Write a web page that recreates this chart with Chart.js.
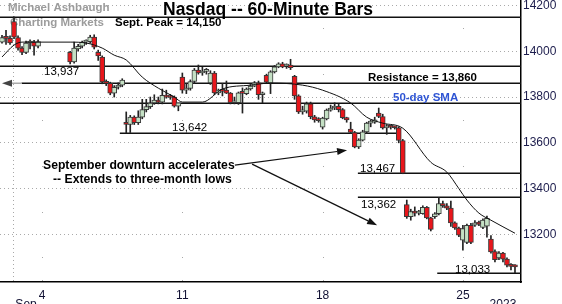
<!DOCTYPE html>
<html>
<head>
<meta charset="utf-8">
<script src="https://cdn.jsdelivr.net/npm/chart.js@4.4.0/dist/chart.umd.min.js"></script>
<style>
  html, body { margin: 0; padding: 0; background: #fff; }
  #wrap { width: 562px; height: 304px; position: relative; }
</style>
</head>
<body>
<div id="wrap"><canvas id="chart" width="562" height="304"></canvas></div>
<script>
// --- DATA ---
const days = ['Aug 31', 'Sep 1', 'Sep 4', 'Sep 5', 'Sep 6', 'Sep 7', 'Sep 8',
              'Sep 11', 'Sep 12', 'Sep 13', 'Sep 14', 'Sep 15',
              'Sep 18', 'Sep 19', 'Sep 20', 'Sep 21', 'Sep 22', 'Sep 25', 'Sep 26'];
const hours = ['9:30', '10:30', '11:30', '12:30', '13:30', '14:30', '15:30'];
const mondays = ['Sep 4', 'Sep 11', 'Sep 18', 'Sep 25'];

// one row per day (Aug 31 only last 3 bars, Sep 4 holiday = empty slots)
const opens = [
  14040, 14060, 14056,
  14130, 14060, 14014, 13995, 14036, 14040, 14022,
  null, null, null, null, null, null, null,
  13995, 13953, 14010, 14022, 14040, 14042, 14062,
  13995, 13975, 13866, 13860, 13817, 13843, 13852,
  13690, 13680, 13712, 13688, 13712, 13745, 13758,
  13774, 13787, 13778, 13808, 13800, 13800, 13760,
  13887, 13830, 13838, 13868, 13918, 13905, 13912,
  13862, 13905, 13818, 13830, 13830, 13817, 13775,
  13775, 13818, 13815, 13835, 13848, 13862, 13810,
  13895, 13862, 13910, 13932, 13945, 13935, 13940,
  13890, 13805, 13735, 13738, 13770, 13714, 13700,
  13668, 13705, 13743, 13752, 13760, 13745, 13710,
  13660, 13645, 13582, 13612, 13648, 13686, 13690,
  13730, 13715, 13665, 13670, 13668, 13666, 13610,
  13330, 13277, 13298, 13293, 13290, 13318, 13272,
  13277, 13290, 13335, 13325, 13315, 13250, 13228,
  13175, 13165, 13240, 13240, 13250, 13230, 13236,
  13180, 13125, 13097, 13118, 13092, 13065, 13060,
  null
];
const highs = [
  14070, 14092, 14068,
  14150, 14068, 14020, 14045, 14050, 14048, 14050,
  null, null, null, null, null, null, null,
  14000, 14040, 14030, 14045, 14050, 14070, 14072,
  14005, 13980, 13875, 13865, 13850, 13862, 13880,
  13735, 13720, 13718, 13740, 13790, 13790, 13800,
  13810, 13800, 13835, 13830, 13812, 13805, 13770,
  13905, 13860, 13875, 13925, 13940, 13930, 13925,
  13915, 13912, 13835, 13860, 13870, 13820, 13800,
  13822, 13840, 13840, 13855, 13868, 13870, 13822,
  13900, 13915, 13938, 13950, 13952, 13945, 13965,
  13895, 13810, 13760, 13778, 13778, 13720, 13710,
  13712, 13748, 13765, 13775, 13768, 13750, 13712,
  13690, 13650, 13618, 13655, 13690, 13700, 13712,
  13752, 13725, 13680, 13675, 13672, 13670, 13615,
  13350, 13310, 13320, 13305, 13325, 13322, 13275,
  13295, 13362, 13345, 13335, 13345, 13255, 13232,
  13240, 13245, 13248, 13260, 13258, 13268, 13280,
  13195, 13133, 13125, 13122, 13098, 13072, 13068,
  null
];
const lows = [
  14035, 14030, 14030,
  14055, 14005, 13985, 13990, 14010, 13983, 14015,
  null, null, null, null, null, null, null,
  13945, 13948, 14000, 14015, 14030, 14035, 14010,
  13960, 13858, 13850, 13810, 13800, 13835, 13845,
  13643, 13645, 13680, 13680, 13705, 13735, 13750,
  13768, 13770, 13770, 13795, 13790, 13756, 13740,
  13817, 13815, 13830, 13860, 13900, 13895, 13900,
  13855, 13810, 13810, 13805, 13815, 13770, 13770,
  13768, 13730, 13810, 13830, 13845, 13790, 13775,
  13860, 13815, 13905, 13928, 13928, 13925, 13920,
  13790, 13728, 13725, 13730, 13705, 13690, 13690,
  13660, 13700, 13738, 13745, 13735, 13705, 13690,
  13640, 13578, 13575, 13608, 13640, 13670, 13685,
  13710, 13660, 13637, 13660, 13660, 13600, 13465,
  13270, 13262, 13280, 13285, 13288, 13268, 13215,
  13270, 13285, 13318, 13308, 13235, 13222, 13190,
  13131, 13160, 13160, 13235, 13238, 13225, 13188,
  13118, 13080, 13090, 13080, 13058, 13045, 13033,
  null
];
const closes = [
  14060, 14056, 14036,
  14062, 14014, 13995, 14036, 14040, 14022, 14042,
  null, null, null, null, null, null, null,
  13953, 14014, 14022, 14040, 14045, 14062, 14018,
  13980, 13866, 13860, 13817, 13843, 13852, 13874,
  13680, 13712, 13688, 13712, 13745, 13758, 13774,
  13787, 13778, 13808, 13800, 13798, 13760, 13775,
  13830, 13838, 13868, 13918, 13905, 13912, 13920,
  13905, 13818, 13830, 13825, 13817, 13775, 13778,
  13818, 13816, 13835, 13848, 13862, 13810, 13812,
  13865, 13910, 13932, 13945, 13932, 13936, 13928,
  13805, 13735, 13740, 13770, 13714, 13700, 13697,
  13708, 13743, 13752, 13760, 13745, 13710, 13700,
  13645, 13582, 13612, 13648, 13686, 13690, 13700,
  13715, 13665, 13670, 13668, 13666, 13610, 13467,
  13277, 13300, 13293, 13298, 13318, 13272, 13222,
  13290, 13335, 13325, 13315, 13250, 13228, 13197,
  13225, 13240, 13165, 13250, 13245, 13262, 13270,
  13123, 13090, 13118, 13092, 13065, 13060, 13058,
  null
];

// moving average, read at a few bars and joined by the library
const maBars = [0, 3, 5, 17, 21, 25, 28, 31, 35, 39, 43, 45, 50, 55, 62, 67, 75, 80, 87, 91, 95, 100, 107, 111, 114, 116, 119, 122, 128];
const maValues = [13975, 14027, 14040, 14040, 14036, 14014, 13983, 13962, 13887, 13839, 13800, 13778, 13778, 13835, 13852, 13861, 13852, 13830, 13774, 13712, 13686, 13664, 13515, 13472, 13400, 13350, 13293, 13262, 13205];

const yTicks = [13200, 13400, 13600, 13800, 14000, 14200];
const levels = [14150, 13937, 13860, 13775, 13642, 13467, 13362, 13033];

// --- BUILD ---
const labels = [];
days.forEach((d, i) => {
    (i === 0 ? hours.slice(4) : hours).forEach(h => labels.push(d + ' ' + h));
});
labels.push('Sep 27 9:30');

const maData = labels.map(() => null);
maBars.forEach((b, i) => { maData[b] = maValues[i]; });

const UP = '#c4e0c4', DOWN = '#e8161b';
const FONT = '"Liberation Sans", Arial, sans-serif';

// --- OVERLAY (levels, notes, arrows) ---
const levelSpans = [[-0.5, 129.5], [-0.5, 129.5], [4.9, 129.5], [-0.5, 129.5],
                    [29.4, 99.4], [88.8, 129.5], [88.8, 129.5], [108.6, 129.5]];

function arrow(ctx, x1, y1, x2, y2) {
    const a = Math.atan2(y2 - y1, x2 - x1), L = 10, W = 3.5;
    ctx.beginPath(); ctx.moveTo(x1, y1);
    ctx.lineTo(x2 - L * Math.cos(a), y2 - L * Math.sin(a)); ctx.stroke();
    ctx.beginPath();
    ctx.moveTo(x2, y2);
    ctx.lineTo(x2 - L * Math.cos(a) + W * Math.sin(a), y2 - L * Math.sin(a) - W * Math.cos(a));
    ctx.lineTo(x2 - L * Math.cos(a) - W * Math.sin(a), y2 - L * Math.sin(a) + W * Math.cos(a));
    ctx.closePath(); ctx.fill();
}

const overlay = {
    id: 'overlay',
    beforeDatasetsDraw(chart) {
        const {ctx, chartArea: ca, scales: {x, y}} = chart;
        ctx.save();

        // sparse grid dots at week starts
        ctx.fillStyle = '#a8a8a8';
        mondays.forEach(d => {
            const xp = Math.round(x.getPixelForValue(labels.indexOf(d + ' 9:30')));
            for (let v = 13000; v <= 14200; v += 100) {
                if (yTicks.includes(v)) continue;
                ctx.fillRect(xp, Math.round(y.getPixelForValue(v)), 1, 1);
            }
        });

        // month separator
        const mx = Math.round(x.getPixelForValue(labels.indexOf('Sep 1 9:30'))) - 0.5;
        ctx.strokeStyle = '#a8a8a8'; ctx.lineWidth = 1; ctx.setLineDash([1, 3]);
        ctx.beginPath(); ctx.moveTo(mx, ca.top); ctx.lineTo(mx, ca.bottom); ctx.stroke();
        ctx.setLineDash([]);

        // watermark
        ctx.font = 'bold 11.5px ' + FONT;
        ctx.fillStyle = '#9c9c9c'; ctx.textBaseline = 'middle';
        ctx.fillText('Michael Ashbaugh', 8, 8);
        ctx.fillText('Charting Markets', 10, 23);

        // level lines
        ctx.strokeStyle = '#111'; ctx.lineWidth = 1.5;
        levels.forEach((v, i) => {
            const yp = Math.round(y.getPixelForValue(v)) + 0.25;
            ctx.beginPath();
            ctx.moveTo(x.getPixelForValue(levelSpans[i][0]), yp);
            ctx.lineTo(x.getPixelForValue(levelSpans[i][1]), yp);
            ctx.stroke();
        });

        // small resistance marker on the left edge
        const ry = Math.round(y.getPixelForValue(13860)) + 0.25;
        ctx.strokeStyle = '#aaa'; ctx.fillStyle = '#444'; ctx.lineWidth = 1.5;
        arrow(ctx, 22, ry, 2, ry);
        ctx.restore();
    },
    afterDatasetsDraw(chart) {
        const {ctx, scales: {x, y}} = chart;
        ctx.save();
        ctx.textBaseline = 'middle';
        ctx.fillStyle = '#000';

        ctx.font = 'bold 17.5px ' + FONT;
        ctx.fillText('Nasdaq -- 60-Minute Bars', 163, 10);

        ctx.font = 'bold 11.5px ' + FONT;
        ctx.fillText('Sept. Peak = 14,150', 115, 22.5);
        ctx.fillText('Resistance = 13,860', 368, 78);
        ctx.fillStyle = '#2f55d4';
        ctx.fillText('50-day SMA', 393, 97.5);

        ctx.fillStyle = '#000';
        ctx.font = '11.5px ' + FONT;
        ctx.fillText('13,937', 44, 71.5);
        ctx.fillText('13,642', 172, 127.5);
        ctx.fillText('13,467', 360, 168.5);
        ctx.fillText('13,362', 361, 204.5);
        ctx.fillText('13,033', 455, 269.5);

        ctx.font = 'bold 12.2px ' + FONT;
        ctx.fillText('September downturn accelerates', 43, 166);
        ctx.fillText('-- Extends to three-month lows', 53, 180);

        ctx.strokeStyle = '#111'; ctx.fillStyle = '#111'; ctx.lineWidth = 1.2;
        arrow(ctx, x.getPixelForValue(58.1), y.getPixelForValue(13503),
                   x.getPixelForValue(86.1), y.getPixelForValue(13568));
        arrow(ctx, x.getPixelForValue(62.4), y.getPixelForValue(13507),
                   x.getPixelForValue(93.6), y.getPixelForValue(13240));
        ctx.restore();
    }
};

// --- CHART ---
const ctx = document.getElementById('chart').getContext('2d');
new Chart(ctx, {
    type: 'bar',
    data: {
        labels: labels,
        datasets: [
            {
                type: 'line',
                data: maData,
                borderColor: '#111',
                borderWidth: 1,
                pointRadius: 0,
                spanGaps: true,
                cubicInterpolationMode: 'monotone',
                order: 0
            },
            {
                data: opens.map((o, i) => o == null ? null : [o, closes[i]]),
                backgroundColor: opens.map((o, i) => closes[i] >= o ? UP : DOWN),
                borderColor: '#3a3a3a',
                borderWidth: 1,
                borderSkipped: false,
                barThickness: 5,
                minBarLength: 2,
                grouped: false,
                order: 1
            },
            {
                data: lows.map((l, i) => l == null ? null : [l, highs[i]]),
                backgroundColor: '#222',
                barThickness: 1,
                grouped: false,
                order: 2
            }
        ]
    },
    options: {
        responsive: false,
        animation: false,
        devicePixelRatio: 1,
        layout: { padding: 0 },
        plugins: { legend: { display: false }, tooltip: { enabled: false } },
        scales: {
            x: {
                grid: { display: false },
                border: { display: true, color: '#000', width: 1.5 },
                afterFit: s => { s.height = 22; s.paddingLeft = 0; s.paddingRight = 0; },
                ticks: {
                    autoSkip: false, maxRotation: 0, padding: 1,
                    color: '#111133',
                    font: { family: FONT, size: 12, lineHeight: 0.76 },
                    callback: (v, i) => {
                        const [mon, day, hr] = labels[i].split(' ');
                        if (hr === '9:30' && mondays.includes(mon + ' ' + day)) return day;
                        if (labels[i] === 'Sep 1 12:30') return ['', 'Sep'];
                        if (labels[i] === 'Sep 26 12:30') return ['', '2023'];
                        return '';
                    }
                }
            },
            y: {
                position: 'right',
                min: 12992,
                max: 14224,
                afterFit: s => { s.width = 41; s.paddingTop = 0; s.paddingBottom = 0; },
                afterBuildTicks: s => { s.ticks = yTicks.map(v => ({ value: v })); },
                grid: { color: '#aaa', lineWidth: 1, drawTicks: false },
                border: { display: true, color: '#000', width: 1.5, dash: [1, 3] },
                ticks: {
                    padding: 2,
                    color: '#1c1c4c',
                    font: { family: FONT, size: 12 },
                    callback: v => String(v)
                }
            }
        }
    },
    plugins: [overlay]
});
</script>
</body>
</html>
